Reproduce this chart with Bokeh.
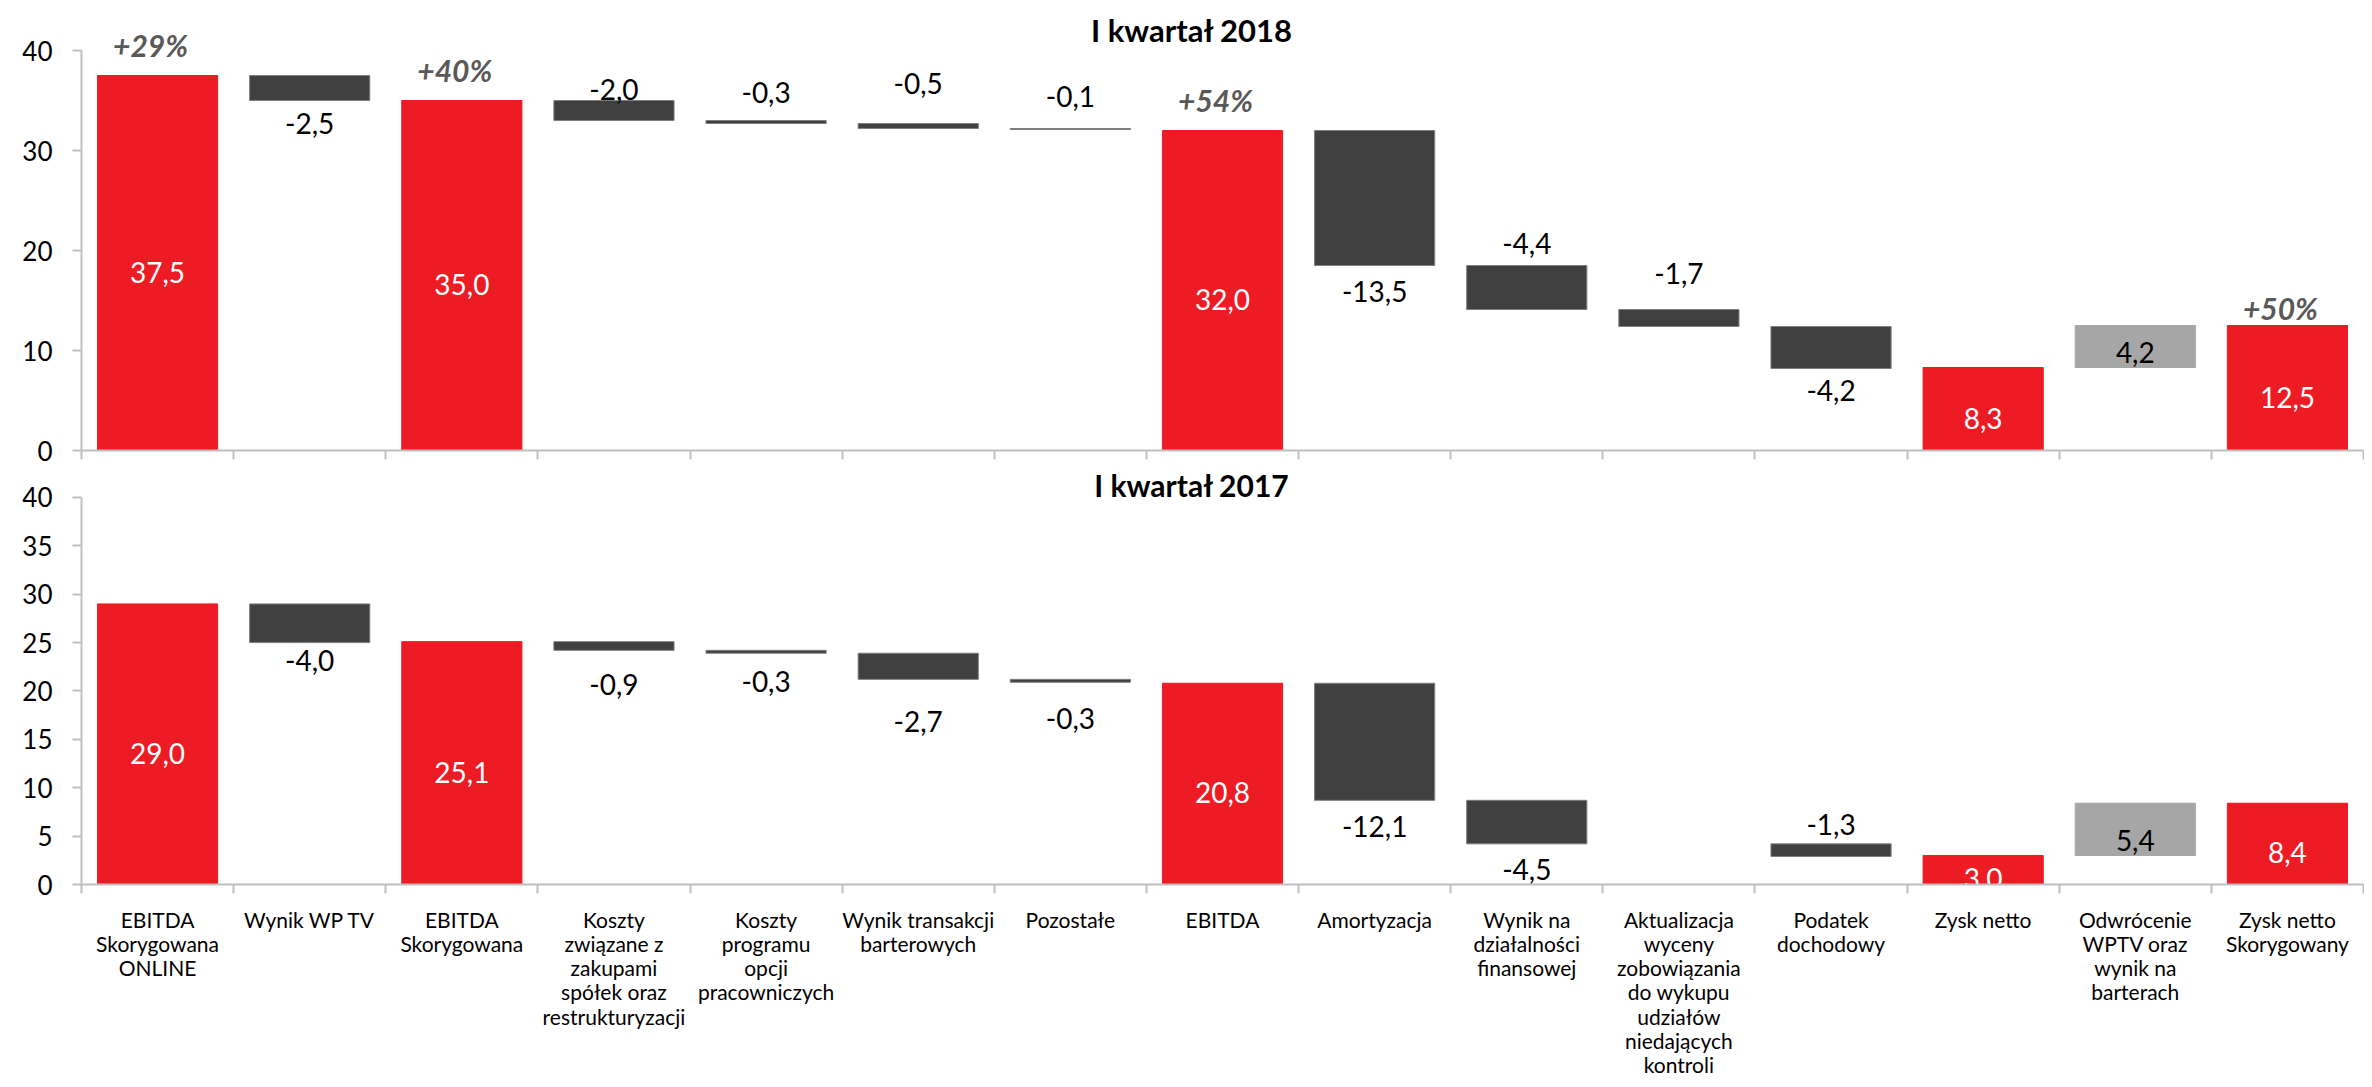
import numpy as np
from bokeh.plotting import figure
from bokeh.layouts import column
from bokeh.models import Range1d, FixedTicker, Label, ColumnDataSource
from bokeh.embed import file_html
from bokeh.resources import INLINE
from bokeh.core.properties import value

# ---------------- data ----------------
categories = [
    "EBITDA\nSkorygowana\nONLINE",
    "Wynik WP TV",
    "EBITDA\nSkorygowana",
    "Koszty\nzwiązane z\nzakupami\nspółek oraz\nrestrukturyzacji",
    "Koszty\nprogramu\nopcji\npracowniczych",
    "Wynik transakcji\nbarterowych",
    "Pozostałe",
    "EBITDA",
    "Amortyzacja",
    "Wynik na\ndziałalności\nfinansowej",
    "Aktualizacja\nwyceny\nzobowiązania\ndo wykupu\nudziałów\nniedających\nkontroli",
    "Podatek\ndochodowy",
    "Zysk netto",
    "Odwrócenie\nWPTV oraz\nwynik na\nbarterach",
    "Zysk netto\nSkorygowany",
]
kinds = ["total", "delta", "total", "delta", "delta", "delta", "delta", "total",
         "delta", "delta", "delta", "delta", "total", "delta", "total"]

values_2018 = [37.5, -2.5, 35.0, -2.0, -0.3, -0.5, -0.1, 32.0,
               -13.5, -4.4, -1.7, -4.2, 8.3, 4.2, 12.5]
values_2017 = [29.0, -4.0, 25.1, -0.9, -0.3, -2.7, -0.3, 20.8,
               -12.1, -4.5, None, -1.3, 3.0, 5.4, 8.4]

growth_2018 = {0: "+29%", 2: "+40%", 7: "+54%", 14: "+50%"}

titles = ["I kwartał 2018", "I kwartał 2017"]

# ------------- style / layout -------------
RED = "#ED1C24"
DARK = "#404040"
LIGHT = "#A6A6A6"
AXIS = "#BFBFBF"
FONT = "Lato"

# label side for negative deltas ("up" above bar, "down" below) and offsets in px
side_2018 = [None, "down", None, "up", "up", "up", "up", None, "down", "up", "up", "down", None, None, None]
off_2018 = [0, 23, 0, 11, 28, 40, 32, 0, 26, 22, 36, 22, 0, 0, 0]
side_2017 = [None, "down", None, "down", "down", "down", "down", None, "down", "down", None, "up", None, None, None]
off_2017 = [0, 18, 0, 34, 28, 42, 36, 0, 26, 26, 0, 19, 0, 0, 0]
growth_off = {0: 31, 2: 31, 7: 31, 14: 18}

N = len(categories)
centers = np.arange(N) + 0.5
bounds = list(range(N + 1))

FRAME_W = 2282
LEFT = 81


def waterfall(vals):
    lo, hi = [], []
    level = 0.0
    for k, v in zip(kinds, vals):
        if v is None:
            lo.append(level); hi.append(level)
            continue
        if k == "total":
            lo.append(0.0); hi.append(v); level = v
        else:
            new = level + v
            lo.append(min(level, new)); hi.append(max(level, new)); level = new
    return lo, hi


def fmt(v):
    return f"{v:.1f}".replace(".", ",")


def make_panel(vals, sides, offs, title, frame_h, ymax, ytick_step, title_y, growth=None,
               show_labels=False, top_border=0, bottom_border=0, title_size="31px"):
    ppu = frame_h / ymax
    p = figure(frame_width=FRAME_W, frame_height=frame_h, x_range=Range1d(0, N),
               y_range=Range1d(0, ymax), output_backend="svg", toolbar_location=None,
               min_border_left=LEFT, min_border_right=1, min_border_top=top_border,
               min_border_bottom=bottom_border)
    p.outline_line_color = None
    p.xgrid.visible = False
    p.ygrid.visible = False
    p.background_fill_color = "white"
    p.border_fill_color = "white"

    lo, hi = waterfall(vals)
    xs, bots, tops, fills, lines = [], [], [], [], []
    lx, ly, lt, lc = [], [], [], []
    for i, (k, v) in enumerate(zip(kinds, vals)):
        if v is None:
            continue
        xs.append(centers[i]); bots.append(lo[i]); tops.append(hi[i])
        if k == "total":
            fills.append(RED); lines.append(RED)
            lx.append(centers[i]); ly.append(v / 2 - 9 / ppu); lt.append(fmt(v)); lc.append("white")
        elif v > 0:
            fills.append(LIGHT); lines.append(LIGHT)
            lx.append(centers[i]); ly.append(lo[i] + 15 / ppu); lt.append(fmt(v)); lc.append("black")
        else:
            fills.append(DARK); lines.append("#7F7F7F")
            if sides[i] == "up":
                yy = hi[i] + offs[i] / ppu
            else:
                yy = lo[i] - offs[i] / ppu
            lx.append(centers[i]); ly.append(yy); lt.append(fmt(v)); lc.append("black")

    p.vbar(x=xs, width=0.79, bottom=bots, top=tops, fill_color=fills, line_color=lines,
           line_width=1)

    src = ColumnDataSource(dict(x=lx, y=ly, t=lt, c=lc))
    p.text(x="x", y="y", text="t", source=src, text_color="c", text_align="center",
           text_baseline="middle", text_font=value(FONT), text_font_size="28px")

    if growth:
        gx, gy, gt = [], [], []
        for i, t in growth.items():
            gx.append(centers[i]); gy.append(hi[i] + growth_off[i] / ppu); gt.append(t)
        p.text(x=gx, y=gy, text=gt, text_color="#595959", text_align="center",
               text_baseline="middle", text_font=value(FONT), text_font_style="bold italic",
               text_font_size="30px", x_offset=-7)

    p.add_layout(Label(x=7.3, y=title_y, text=title, text_align="center",
                       text_baseline="middle", text_font=FONT, text_font_style="bold",
                       text_font_size=title_size, text_color="black"))

    # y axis
    ya = p.yaxis[0]
    ya.bounds = (0, 40)
    ya.ticker = FixedTicker(ticks=list(range(0, 41, ytick_step)))
    ya.axis_line_color = AXIS
    ya.axis_line_width = 2
    ya.major_tick_line_color = AXIS
    ya.major_tick_line_width = 2
    ya.major_tick_out = 9
    ya.major_tick_in = 0
    ya.minor_tick_line_color = None
    ya.major_label_text_font = FONT
    ya.major_label_text_font_size = "26px"
    ya.major_label_text_color = "black"
    ya.major_label_standoff = 20

    # x axis: tick marks at category boundaries (minor ticks), names at centres
    xa = p.xaxis[0]
    xa.axis_line_color = AXIS
    xa.axis_line_width = 2
    xa.major_tick_out = 0
    xa.major_tick_in = 0
    xa.minor_tick_out = 9
    xa.minor_tick_in = 0
    xa.minor_tick_line_color = AXIS
    xa.minor_tick_line_width = 2
    if show_labels:
        xa.ticker = FixedTicker(ticks=list(centers), minor_ticks=bounds)
        xa.major_label_overrides = {float(c): lab for c, lab in zip(centers, categories)}
        xa.major_label_text_font = FONT
        xa.major_label_text_font_size = "21px"
        xa.major_label_text_line_height = 0.97
        xa.major_label_text_color = "black"
        xa.major_label_standoff = 13
    else:
        xa.ticker = FixedTicker(ticks=[], minor_ticks=bounds)
    return p


FH_TOP = 442
YMAX_TOP = 44.2
FH_BOT = 418
YMAX_BOT = 43.2

p_top = make_panel(values_2018, side_2018, off_2018, titles[0], FH_TOP, YMAX_TOP, 10,
                   YMAX_TOP - 21 / (FH_TOP / YMAX_TOP), growth=growth_2018,
                   top_border=8, bottom_border=16)
p_bot = make_panel(values_2017, side_2017, off_2017, titles[1], FH_BOT, YMAX_BOT, 5,
                   YMAX_BOT - 18 / (FH_BOT / YMAX_BOT), show_labels=True, title_size="30px")

layout = column(p_top, p_bot, spacing=0)
open("out.html", "w").write(file_html(layout, INLINE))
